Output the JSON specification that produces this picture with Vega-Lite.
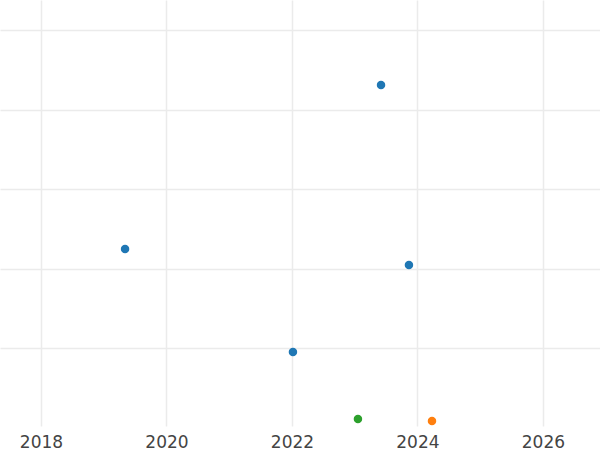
{
  "$schema": "https://vega.github.io/schema/vega-lite/v6.json",
  "width": 600,
  "height": 426,
  "padding": {"top": 0, "left": 0, "right": 0, "bottom": 24},
  "autosize": {"type": "none"},
  "background": "white",
  "config": {"view": {"stroke": null}},
  "data": {
    "values": [
      {"year": 2019.34, "value": 2.245, "group": "A"},
      {"year": 2023.42, "value": 4.308, "group": "A"},
      {"year": 2023.865, "value": 2.044, "group": "A"},
      {"year": 2022.016, "value": 0.95, "group": "A"},
      {"year": 2023.052, "value": 0.107, "group": "C"},
      {"year": 2024.232, "value": 0.082, "group": "B"}
    ]
  },
  "mark": {"type": "circle", "size": 72, "opacity": 1},
  "encoding": {
    "x": {
      "field": "year",
      "type": "quantitative",
      "scale": {"domain": [2017.347, 2026.91], "nice": false, "zero": false},
      "axis": {
        "title": null,
        "values": [2018, 2020, 2022, 2024, 2026],
        "format": "d",
        "domain": false,
        "ticks": false,
        "labelFont": "DejaVu Sans",
        "labelFontSize": 17,
        "labelColor": "#444444",
        "labelPadding": 8,
        "gridColor": "#ebebeb",
        "gridWidth": 1.5
      }
    },
    "y": {
      "field": "value",
      "type": "quantitative",
      "scale": {"domain": [0.02, 5.377], "nice": false, "zero": false},
      "axis": {
        "title": null,
        "values": [1, 2, 3, 4, 5],
        "labels": false,
        "domain": false,
        "ticks": false,
        "gridColor": "#ebebeb",
        "gridWidth": 1.5
      }
    },
    "color": {
      "field": "group",
      "type": "nominal",
      "scale": {"domain": ["A", "B", "C"], "range": ["#1f77b4", "#ff7f0e", "#2ca02c"]},
      "legend": null
    }
  }
}
